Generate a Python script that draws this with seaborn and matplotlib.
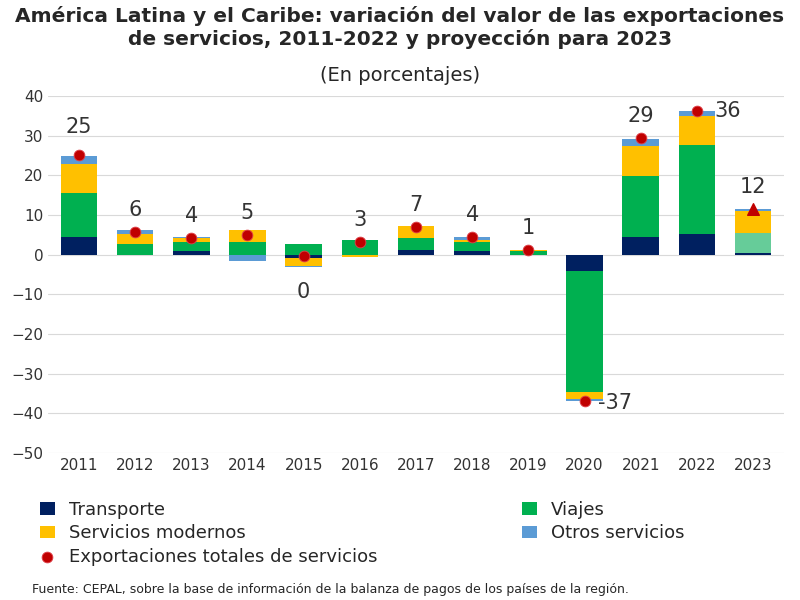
import numpy as np
import matplotlib
matplotlib.use("Agg")
import matplotlib.pyplot as plt
import seaborn as sns

years = ["2011","2012","2013","2014","2015","2016","2017","2018","2019","2020","2021","2022","2023"]
transporte = [4.5, 0.0, 0.9, 0.0, -0.8, -0.2, 1.3, 0.8, 0.0, -4.2, 4.5, 5.1, 0.3]
viajes = [11.0, 2.8, 2.3, 3.3, 2.7, 3.8, 3.0, 2.5, 0.8, -30.3, 15.3, 22.6, 5.2]
modernos = [7.3, 2.5, 1.0, 3.0, -2.0, -0.3, 3.0, 0.3, 0.5, -1.8, 7.7, 7.2, 5.5]
otros = [2.0, 0.8, 0.3, -1.5, -0.3, 0.0, 0.0, 0.9, 0.0, -0.7, 1.7, 1.2, 0.5]
totales = [25, 6, 4, 5, 0, 3, 7, 4, 1, -37, 29, 36, 12]
total_pos = [25.2, 5.8, 4.3, 5.0, -0.3, 3.2, 7.0, 4.5, 1.2, -37.0, 29.5, 36.1, 11.5]

sns.set_style("white")
plt.rcParams['font.family'] = ['DejaVu Sans']
fig, ax = plt.subplots(figsize=(8, 6), dpi=100)
fig.subplots_adjust(left=0.06, right=0.98, top=0.84, bottom=0.245)

x = np.arange(len(years))
w = 0.65
series = [("Transporte", transporte, "#002060"), ("Viajes", viajes, "#00B050"),
          ("Servicios modernos", modernos, "#FFC000"), ("Otros servicios", otros, "#5B9BD5")]
pos = np.zeros(len(x)); neg = np.zeros(len(x))
for name, vals, col in series:
    v = np.array(vals)
    bottoms = np.where(v >= 0, pos, neg)
    colors = [col] * len(x)
    if name == "Viajes":
        colors[-1] = "#66CC99"
    ax.bar(x, v, w, bottom=bottoms, color=colors, label=name, zorder=2, linewidth=0)
    pos += np.where(v >= 0, v, 0); neg += np.where(v < 0, v, 0)

sns.scatterplot(x=x[:-1], y=total_pos[:-1], color="#C00000", s=60, ax=ax, zorder=3,
                label="Exportaciones totales de servicios", edgecolor="#E0404A")
ax.scatter([x[-1]], [total_pos[-1]], marker="^", color="#C00000", s=70, zorder=3)

offs = {0: (0, 7), 9: (0.55, -0.5), 11: (0.55, 0), 4: (0, -9)}
for i, t in enumerate(totales):
    dx, dy = offs.get(i, (0, 5.5))
    ax.text(x[i] + dx, total_pos[i] + dy, str(t), ha="center", va="center", fontsize=15, color="#333333")

ax.set_ylim(-50, 40)
ax.set_yticks(range(-50, 41, 10))
ax.set_xlim(-0.55, len(x) - 0.45)
ax.set_xticks(x); ax.set_xticklabels(years)
ax.tick_params(labelsize=11, length=0, colors="#333333")
ax.yaxis.grid(True, color="#D9D9D9", zorder=0)
for s in ax.spines.values():
    s.set_visible(False)

fig.suptitle("América Latina y el Caribe: variación del valor de las exportaciones\nde servicios, 2011-2022 y proyección para 2023",
             fontsize=14.5, fontweight="bold", y=0.99)
fig.text(0.5, 0.865, "(En porcentajes)", ha="center", fontsize=14)
h, l = ax.get_legend_handles_labels()
order = [1, 3, 0, 2, 4]
fig.legend([h[i] for i in order], [l[i] for i in order], loc="lower left", bbox_to_anchor=(0.03, 0.03),
           ncol=2, frameon=False, fontsize=13, handlelength=0.8, columnspacing=8, labelspacing=0.3)
if ax.get_legend():
    ax.get_legend().remove()
fig.text(0.04, 0.012, "Fuente: CEPAL, sobre la base de información de la balanza de pagos de los países de la región.", fontsize=9)
fig.savefig("out.png")
